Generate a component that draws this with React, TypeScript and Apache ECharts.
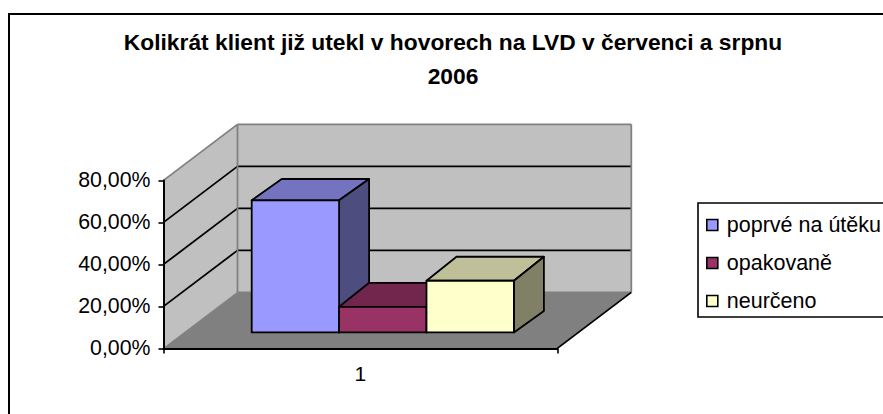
import React, { useEffect, useRef } from "react";
import * as echarts from "echarts";

const categories = ["1"];
const seriesNames = ["poprvé na útěku", "opakovaně", "neurčeno"];
const firstTime = [62.9];
const repeated = [12.2];
const undetermined = [24.6];
const gridValues = [20, 40, 60];
const wallTop = 80;
const titleLines = ["Kolikrát klient již utekl v hovorech na LVD v červenci a srpnu", "2006"];

const FONT = "'Liberation Sans', Arial, sans-serif";
const WALL_DX = 74;
const WALL_DY = -56;
const BAR_W = 87.4;
const BAR_START = 88.2;
const BAR_FRONT_DY = -16;
const BAR_DX = 30;
const BAR_BOTTOM_DY = -21.3;
const BAR_TOP_DY = [-21.3, -24, -24];

const faces = [
  { front: "#9999FF", top: "#7373BF", side: "#4D4D80" },
  { front: "#993366", top: "#73264D", side: "#4D1A33" },
  { front: "#FFFFCC", top: "#BFBF99", side: "#808066" },
];

function poly(points: number[][], fill: string, stroke: string, lineWidth: number) {
  return { type: "polygon", shape: { points }, style: { fill, stroke, lineWidth, lineJoin: "round" } };
}
function seg(a: number[], b: number[], stroke: string, lineWidth: number) {
  return { type: "line", shape: { x1: a[0], y1: a[1], x2: b[0], y2: b[1] }, style: { stroke, lineWidth } };
}

function renderWalls(_: any, api: any) {
  const band = api.size([1, 0])[0];
  const cx = api.coord([0, 0]);
  const L = cx[0] - band / 2;
  const R = cx[0] + band / 2;
  const y0 = cx[1];
  const yT = api.coord([0, wallTop])[1];
  const back = (x: number, y: number) => [x + WALL_DX, y + WALL_DY];
  const children: any[] = [
    poly([[L, y0], back(L, y0), back(R, y0), [R, y0]], "#808080", "none", 0),
    poly([[L, y0], [L, yT], back(L, yT), back(L, y0)], "#C0C0C0", "none", 0),
    poly([back(L, y0), back(L, yT), back(R, yT), back(R, y0)], "#C0C0C0", "none", 0),
  ];
  gridValues.forEach((v) => {
    const y = api.coord([0, v])[1];
    children.push(seg([L, y], back(L, y), "#000", 1.8));
    children.push(seg(back(L, y), back(R, y), "#000", 1.8));
  });
  children.push(seg([L, yT], back(L, yT), "#808080", 1.8));
  children.push(seg(back(L, yT), back(R, yT), "#808080", 1.8));
  children.push(seg(back(L, yT), back(L, y0), "#808080", 1.8));
  children.push(seg(back(R, yT), back(R, y0), "#808080", 1.8));
  children.push(seg([L, y0], back(L, y0), "#808080", 1.2));
  children.push(seg(back(L, y0), back(R, y0), "#808080", 1.8));
  children.push(seg([R, y0], back(R, y0), "#000", 1.8));
  return { type: "group", children };
}

function makeBarRenderer(idx: number) {
  return (_: any, api: any) => {
    const band = api.size([1, 0])[0];
    const c0 = api.coord([0, 0]);
    const cv = api.coord([0, api.value(1)]);
    const x1 = c0[0] - band / 2 + BAR_START + idx * BAR_W;
    const x2 = x1 + BAR_W;
    const yB = c0[1] + BAR_FRONT_DY;
    const yT = cv[1] + BAR_FRONT_DY;
    const tY = yT + BAR_TOP_DY[idx];
    const bY = yB + BAR_BOTTOM_DY;
    const f = faces[idx];
    return {
      type: "group",
      children: [
        poly([[x1, yT], [x1 + BAR_DX, tY], [x2 + BAR_DX, tY], [x2, yT]], f.top, "#000", 1.8),
        poly([[x2, yT], [x2 + BAR_DX, tY], [x2 + BAR_DX, bY], [x2, yB]], f.side, "#000", 1.8),
        poly([[x1, yT], [x2, yT], [x2, yB], [x1, yB]], f.front, "#000", 1.8),
      ],
    };
  };
}

function pct(v: number) {
  return v.toFixed(2).replace(".", ",") + "%";
}

export default function App() {
  const ref = useRef<HTMLDivElement>(null);
  useEffect(() => {
    if (!ref.current) return;
    const chart = echarts.init(ref.current, undefined, { renderer: "svg" });
    const valueSets = [firstTime, repeated, undetermined];
    chart.setOption({
      animation: false,
      backgroundColor: "#fff",
      textStyle: { fontFamily: FONT },
      title: {
        text: titleLines.join("\n"),
        left: 448,
        top: 20,
        textAlign: "center",
        textStyle: { fontFamily: FONT, fontSize: 22.8, fontWeight: "bold", color: "#000", lineHeight: 34 },
      },
      legend: {
        left: 698,
        top: 203,
        orient: "vertical",
        padding: [11, 40, 5, 8],
        itemGap: 16,
        itemWidth: 11,
        itemHeight: 11,
        borderColor: "#000",
        borderWidth: 1.6,
        selectedMode: false,
        textStyle: { fontFamily: FONT, fontSize: 21.5, color: "#000", padding: [0, 0, 0, 4], lineHeight: 22 },
        data: seriesNames.map((name, i) => ({
          name,
          icon: "rect",
          itemStyle: { color: faces[i].front, borderColor: "#000", borderWidth: 1.6 },
        })),
      },
      grid: { left: 163.5, top: 180.4, width: 393.8, height: 168, containLabel: false },
      xAxis: {
        type: "category",
        data: categories,
        z: 5,
        axisLine: { lineStyle: { color: "#000", width: 2 } },
        axisTick: { show: true, length: 5, lineStyle: { color: "#000", width: 1.6 } },
        axisLabel: { color: "#000", fontSize: 21, fontFamily: FONT, margin: 15 },
        splitLine: { show: false },
      },
      yAxis: {
        type: "value",
        min: 0,
        max: 80,
        interval: 20,
        z: 5,
        axisLine: { show: true, lineStyle: { color: "#000", width: 2 } },
        axisTick: { show: true, length: 5, lineStyle: { color: "#000", width: 1.6 } },
        axisLabel: { color: "#000", fontSize: 21.3, fontFamily: FONT, margin: 13, formatter: pct },
        splitLine: { show: false },
      },
      series: [
        {
          type: "custom",
          name: "walls",
          silent: true,
          z: 1,
          renderItem: renderWalls,
          data: [[0, 0]],
          encode: { x: 0, y: 1 },
        },
        ...seriesNames.map((name, i) => ({
          type: "custom",
          name,
          z: 2 + i,
          itemStyle: { color: faces[i].front },
          renderItem: makeBarRenderer(i),
          data: valueSets[i].map((v, k) => [k, v]),
          encode: { x: 0, y: 1 },
        })),
      ],
      graphic: [
        {
          type: "rect",
          silent: true,
          shape: { x: 9, y: 14, width: 900, height: 440 },
          style: { fill: "none", stroke: "#000", lineWidth: 2 },
          z: 100,
        },
      ],
    });
    return () => chart.dispose();
  }, []);
  return <div ref={ref} style={{ position: "absolute", left: 0, top: 0, width: 883, height: 414 }} />;
}
